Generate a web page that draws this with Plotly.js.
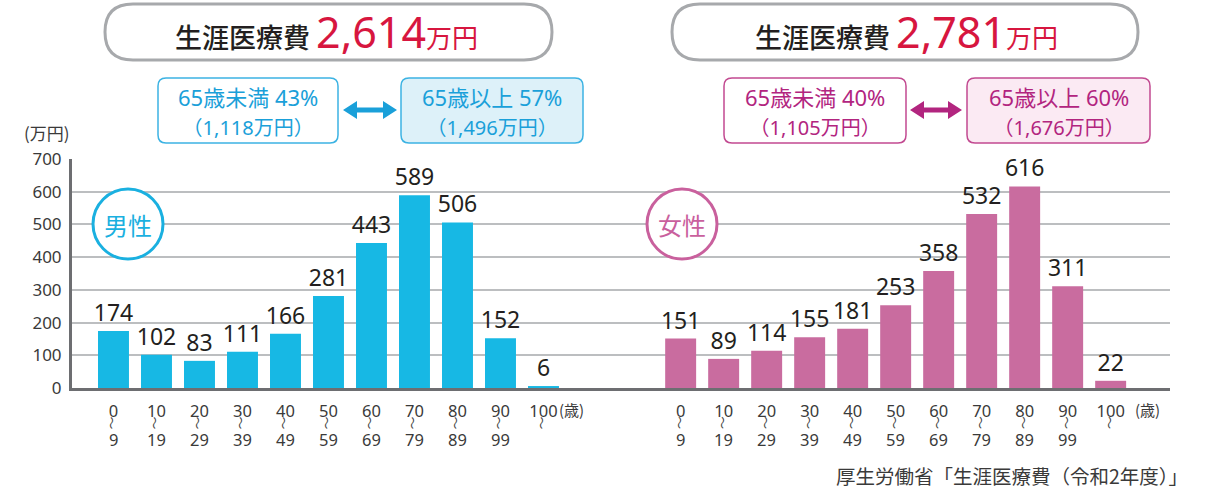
<!DOCTYPE html>
<html>
<head>
<meta charset="utf-8">
<script src="https://cdn.plot.ly/plotly-3.0.1.min.js"></script>
<style>html,body{margin:0;padding:0;background:#fff;}#chart{width:1205px;height:493px;}</style>
</head>
<body>
<div id="chart"></div>
<script>
// ---- data ----
var ageTop = ["0","10","20","30","40","50","60","70","80","90","100"];
var ageBottom = ["9","19","29","39","49","59","69","79","89","99",""];
var maleValues = [174,102,83,111,166,281,443,589,506,152,6];
var femaleValues = [151,89,114,155,181,253,358,532,616,311,22];
var totals = {male: "2,614", female: "2,781"};
var maleSplit = ["65歳未満 43%", "（1,118万円）", "65歳以上 57%", "（1,496万円）"];
var femaleSplit = ["65歳未満 40%", "（1,105万円）", "65歳以上 60%", "（1,676万円）"];
var yTicks = [0,100,200,300,400,500,600,700];
var sourceText = "厚生労働省「生涯医療費（令和2年度）」";

// ---- layout helpers ----
var FONT = "Noto Sans CJK JP, Noto Sans, sans-serif";
var NUMFONT = "Noto Sans, Noto Sans CJK JP, sans-serif";
var L = 72, R = 1170, T = 159, B = 388;
function px(x){ return (x - L) / (R - L); }
function py(y){ return (B - y) / (B - T); }
var femaleOffset = 13.19;
var maleX = maleValues.map(function(_, i){ return i; });
var femaleX = femaleValues.map(function(_, i){ return i + femaleOffset; });

function roundRect(x0, y0, x1, y1, r){
  var p = [];
  p.push("M" + px(x0 + r) + "," + py(y0));
  p.push("L" + px(x1 - r) + "," + py(y0));
  p.push("Q" + px(x1) + "," + py(y0) + " " + px(x1) + "," + py(y0 + r));
  p.push("L" + px(x1) + "," + py(y1 - r));
  p.push("Q" + px(x1) + "," + py(y1) + " " + px(x1 - r) + "," + py(y1));
  p.push("L" + px(x0 + r) + "," + py(y1));
  p.push("Q" + px(x0) + "," + py(y1) + " " + px(x0) + "," + py(y1 - r));
  p.push("L" + px(x0) + "," + py(y0 + r));
  p.push("Q" + px(x0) + "," + py(y0) + " " + px(x0 + r) + "," + py(y0));
  return p.join(" ") + " Z";
}
function dblArrow(x0, x1, yc, color){
  var hw = 14, hh = 9, sh = 2.6;
  var pts = [[x0, yc],[x0+hw, yc-hh],[x0+hw, yc-sh],[x1-hw, yc-sh],[x1-hw, yc-hh],[x1, yc],[x1-hw, yc+hh],[x1-hw, yc+sh],[x0+hw, yc+sh],[x0+hw, yc+hh]];
  var d = pts.map(function(p, i){ return (i ? "L" : "M") + px(p[0]) + "," + py(p[1]); }).join(" ") + " Z";
  return {type:"path", xref:"paper", yref:"paper", path:d, fillcolor:color, line:{width:0}, layer:"above"};
}

var shapes = [];
var annotations = [];

function header(cx, x0, x1, total){
  shapes.push({type:"path", xref:"paper", yref:"paper", path:roundRect(x0, 4, x1, 60, 28),
    line:{color:"#a7a9ac", width:3}, fillcolor:"rgba(0,0,0,0)"});
  annotations.push({xref:"paper", yref:"paper", x:px(cx), y:py(32), xanchor:"center", yanchor:"middle", showarrow:false,
    text:'<span style="color:#231f20;font-size:27px;font-weight:500">生涯医療費 </span><span style="color:#d7163f;font-size:43px;font-family:Noto Sans">' + total +
      '</span><span style="color:#d7163f;font-size:26px">万円</span>', font:{family:FONT, size:27, color:"#231f20"}});
}
header(326, 105, 552, totals.male);
header(906, 672, 1138, totals.female);

function splitBoxes(b1, b2, arrow, texts, color, border, fill){
  shapes.push({type:"path", xref:"paper", yref:"paper", path:roundRect(b1[0], 78, b1[1], 143, 8), line:{color:border, width:1.5}, fillcolor:"#ffffff"});
  shapes.push({type:"path", xref:"paper", yref:"paper", path:roundRect(b2[0], 78, b2[1], 143, 8), line:{color:border, width:1.5}, fillcolor:fill});
  shapes.push(dblArrow(arrow[0], arrow[1], 110, color));
  [[b1, texts[0], texts[1]], [b2, texts[2], texts[3]]].forEach(function(b){
    var cx = (b[0][0] + b[0][1]) / 2;
    annotations.push({xref:"paper", yref:"paper", x:px(cx), y:py(111), xanchor:"center", yanchor:"middle", showarrow:false,
      text:b[1] + '<br><span style="font-size:20px">' + b[2] + '</span>', font:{family:NUMFONT, size:22, color:color}});
  });
}
splitBoxes([158, 338], [401, 583], [343, 397], maleSplit, "#1aa0d9", "#3cb3e3", "#ddf1f9");
splitBoxes([724, 906], [967, 1150], [910, 962], femaleSplit, "#b2257f", "#c24a91", "#fbeaf3");

function badge(cx, label, color){
  shapes.push({type:"circle", xref:"paper", yref:"paper", x0:px(cx-35), x1:px(cx+35), y0:py(259), y1:py(189), line:{color:color, width:3}, fillcolor:"#ffffff"});
  annotations.push({xref:"paper", yref:"paper", x:px(cx), y:py(224), xanchor:"center", yanchor:"middle", showarrow:false, text:label, font:{family:FONT, size:24, color:color}});
}
badge(128, "男性", "#1ab0e0");
badge(682, "女性", "#c9609d");

// age lower lines
var allX = maleX.concat(femaleX);
var tickText = ageTop.concat(ageTop);
var bottoms = ageBottom.concat(ageBottom);
allX.forEach(function(x, i){
  annotations.push({xref:"x", yref:"paper", x:x, y:py(423), xanchor:"center", yanchor:"middle", showarrow:false, text:"〜", textangle:90, font:{family:FONT, size:13, color:"#444"}});
  if (bottoms[i]) annotations.push({xref:"x", yref:"paper", x:x, y:py(439), xanchor:"center", yanchor:"middle", showarrow:false, text:bottoms[i], font:{family:NUMFONT, size:16.5, color:"#3a3a3a"}});
});
annotations.push({xref:"x", yref:"paper", x:maleX[10], xshift:28, y:py(409), xanchor:"center", yanchor:"middle", showarrow:false, text:"(歳)", font:{family:FONT, size:15, color:"#3a3a3a"}});
annotations.push({xref:"x", yref:"paper", x:femaleX[10], xshift:37, y:py(409), xanchor:"center", yanchor:"middle", showarrow:false, text:"(歳)", font:{family:FONT, size:15, color:"#3a3a3a"}});
annotations.push({xref:"paper", yref:"paper", x:px(47), y:py(132), xanchor:"center", yanchor:"middle", showarrow:false, text:"(万円)", font:{family:FONT, size:17, color:"#3a3a3a"}});
annotations.push({xref:"paper", yref:"paper", x:px(1190), y:py(475), xanchor:"right", yanchor:"middle", showarrow:false, text:sourceText, font:{family:FONT, size:19.5, color:"#3a3a3a"}});

var traces = [
  {type:"bar", x:maleX, y:maleValues, width:0.72, marker:{color:"#17b8e4"}, text:maleValues.map(String), textposition:"outside", cliponaxis:false,
   constraintext:"none", textfont:{family:NUMFONT, size:23, color:"#231f20"}, hoverinfo:"none"},
  {type:"bar", x:femaleX, y:femaleValues, width:0.72, marker:{color:"#c96c9f"}, text:femaleValues.map(String), textposition:"outside", cliponaxis:false,
   constraintext:"none", textfont:{family:NUMFONT, size:23, color:"#231f20"}, hoverinfo:"none"}
];

var layout = {
  width:1205, height:493,
  margin:{l:L, r:1205-R, t:T, b:493-B},
  paper_bgcolor:"#ffffff", plot_bgcolor:"#ffffff",
  showlegend:false, barmode:"overlay",
  font:{family:FONT},
  xaxis:{range:[-0.965, 24.57], tickvals:allX, ticktext:tickText, showgrid:false, zeroline:false,
    showline:true, linecolor:"#6d6e71", linewidth:3, ticks:"outside", ticklen:6, tickcolor:"rgba(0,0,0,0)",
    tickfont:{family:NUMFONT, size:16.5, color:"#3a3a3a"}, fixedrange:true},
  yaxis:{range:[0,700], tickvals:yTicks, showgrid:true, gridcolor:"#bcbec0", gridwidth:2, zeroline:false,
    showline:true, linecolor:"#6d6e71", linewidth:3, ticks:"outside", ticklen:4, tickcolor:"rgba(0,0,0,0)",
    tickfont:{family:NUMFONT, size:17, color:"#3a3a3a"}, fixedrange:true},
  shapes:shapes, annotations:annotations
};
Plotly.newPlot("chart", traces, layout, {displayModeBar:false, staticPlot:true});
</script>
</body>
</html>
